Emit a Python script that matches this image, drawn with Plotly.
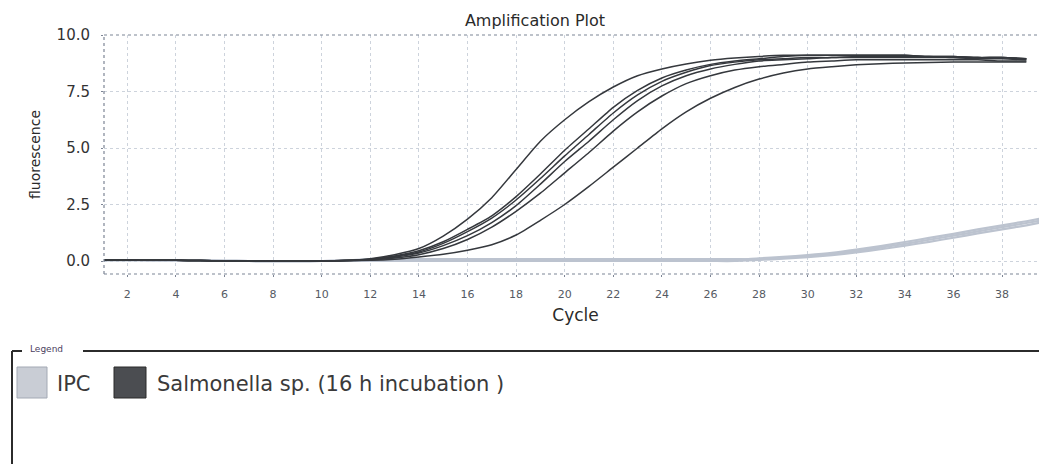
import plotly.graph_objects as go

# ---------------- data ----------------
cycles = list(range(1, 41))

base = [0.04, 0.04, 0.03, 0.03, 0.02, 0.01, 0.0, -0.01, -0.01, 0.0, 0.02]

sal_a = base + [0.10, 0.28, 0.55, 1.10, 1.85, 2.80, 4.05, 5.30, 6.25,
                7.05, 7.70, 8.20, 8.50, 8.72, 8.88, 8.98, 9.05, 9.10, 9.10,
                9.10, 9.10, 9.10, 9.10, 9.05, 9.05, 9.00, 9.00, 8.95]
sal_b = base + [0.08, 0.22, 0.45, 0.85, 1.40, 2.00, 2.85, 3.85, 4.90,
                5.85, 6.80, 7.55, 8.10, 8.45, 8.70, 8.85, 8.95, 9.05, 9.10,
                9.10, 9.10, 9.10, 9.10, 9.05, 9.05, 9.00, 9.00, 8.95]
sal_c = base + [0.07, 0.20, 0.40, 0.78, 1.30, 1.90, 2.70, 3.65, 4.65,
                5.60, 6.55, 7.35, 7.95, 8.35, 8.65, 8.80, 8.90, 8.95, 9.00,
                9.00, 9.05, 9.05, 9.05, 9.05, 9.00, 9.00, 9.00, 8.95]
sal_d = base + [0.06, 0.17, 0.35, 0.68, 1.12, 1.70, 2.45, 3.40, 4.40,
                5.30, 6.25, 7.10, 7.75, 8.20, 8.50, 8.70, 8.85, 8.90, 8.95,
                9.00, 9.00, 9.00, 9.00, 9.00, 9.00, 8.95, 8.95, 8.90]
sal_e = base + [0.05, 0.13, 0.28, 0.55, 0.95, 1.50, 2.20, 3.00, 3.90,
                4.80, 5.75, 6.60, 7.30, 7.85, 8.20, 8.45, 8.60, 8.70, 8.80,
                8.85, 8.90, 8.90, 8.90, 8.90, 8.90, 8.90, 8.85, 8.85]
sal_f = base + [0.03, 0.08, 0.18, 0.30, 0.48, 0.72, 1.15, 1.80, 2.50,
                3.30, 4.15, 5.00, 5.85, 6.60, 7.20, 7.68, 8.05, 8.32, 8.50,
                8.60, 8.68, 8.73, 8.76, 8.78, 8.80, 8.80, 8.80, 8.80]
salmonella_series = [sal_a, sal_b, sal_c, sal_d, sal_e, sal_f]

ipc_1 = base + [0.05] * 16 + [0.12, 0.18, 0.26, 0.36, 0.50, 0.66, 0.84,
                              1.02, 1.20, 1.40, 1.58, 1.76, 1.95]
ipc_2 = base + [0.00] * 16 + [0.05, 0.10, 0.17, 0.26, 0.38, 0.52, 0.68,
                              0.85, 1.03, 1.22, 1.40, 1.58, 1.78]
ipc_3 = base + [0.08] * 16 + [0.08, 0.14, 0.22, 0.31, 0.44, 0.59, 0.76,
                              0.94, 1.12, 1.31, 1.50, 1.68, 1.87]
ipc_series = [ipc_1, ipc_2, ipc_3]

x_ticks = list(range(2, 41, 2))
y_ticks = [0.0, 2.5, 5.0, 7.5, 10.0]
y_tick_labels = ["0.0", "2.5", "5.0", "7.5", "10.0"]

title_text = "Amplification Plot"
x_title = "Cycle"
y_title = "fluorescence"
legend_labels = ["IPC", "Salmonella sp. (16 h incubation )"]

# ---------------- styles ----------------
OFF = 8                      # page body margin of the browser
W, H = 1047 - OFF, 464 - OFF
L, R, T, B = 104 - OFF, 0, 35 - OFF, 190
FONT = "DejaVu Sans"
SAL_COLOR = "#35383d"
IPC_COLOR = "#bcc3cf"
GRID = "#cdd3dc"
AXIS = "#7d8595"

fig = go.Figure()

for s in ipc_series:
    fig.add_trace(go.Scatter(x=cycles, y=s, mode="lines", name=legend_labels[0],
                             line=dict(color=IPC_COLOR, width=2.2, shape="spline", smoothing=0.6),
                             showlegend=False, hoverinfo="skip"))
for s in salmonella_series:
    fig.add_trace(go.Scatter(x=cycles, y=s, mode="lines", name=legend_labels[1],
                             line=dict(color=SAL_COLOR, width=1.5, shape="spline", smoothing=0.6),
                             showlegend=False, hoverinfo="skip"))

pw, ph = W - L - R, H - T - B


def px(x):
    return (x - OFF - L) / pw


def py(y):
    return (H - B - (y - OFF)) / ph


shapes = [
    # dotted plot border
    dict(type="line", xref="paper", yref="paper", x0=0, x1=0, y0=0, y1=1,
         line=dict(color=AXIS, width=1.2, dash="dot")),
    dict(type="line", xref="paper", yref="paper", x0=0, x1=1, y0=0, y1=0,
         line=dict(color=AXIS, width=1.2, dash="dot")),
    dict(type="line", xref="paper", yref="paper", x0=0, x1=1, y0=1, y1=1,
         line=dict(color=AXIS, width=1.2, dash="dot")),
    # legend frame
    dict(type="line", xref="paper", yref="paper", x0=px(12), x1=px(22), y0=py(351), y1=py(351),
         line=dict(color="#2b2b2b", width=2)),
    dict(type="line", xref="paper", yref="paper", x0=px(83), x1=px(1050), y0=py(351), y1=py(351),
         line=dict(color="#2b2b2b", width=2)),
    dict(type="line", xref="paper", yref="paper", x0=px(12), x1=px(12), y0=py(351), y1=py(470),
         line=dict(color="#2b2b2b", width=2)),
    # legend swatches
    dict(type="rect", xref="paper", yref="paper", x0=px(17), x1=px(47), y0=py(398), y1=py(367),
         fillcolor="#c9cdd5", line=dict(color="#a3a9b4", width=1)),
    dict(type="rect", xref="paper", yref="paper", x0=px(114), x1=px(146), y0=py(398), y1=py(367),
         fillcolor="#4b4d51", line=dict(color="#2a2a2a", width=1)),
]

annotations = [
    dict(text="Legend", xref="paper", yref="paper", x=px(28), y=py(349),
         xanchor="left", yanchor="middle", showarrow=False,
         font=dict(family=FONT, size=9, color="#4b4060")),
    dict(text=legend_labels[0], xref="paper", yref="paper", x=px(55), y=py(384),
         xanchor="left", yanchor="middle", showarrow=False,
         font=dict(family=FONT, size=21, color="#3a3a3a")),
    dict(text=legend_labels[1], xref="paper", yref="paper", x=px(155), y=py(384),
         xanchor="left", yanchor="middle", showarrow=False,
         font=dict(family=FONT, size=21, color="#3a3a3a")),
]

fig.update_layout(
    width=W, height=H,
    margin=dict(l=L, r=R, t=T, b=B, pad=0),
    paper_bgcolor="white", plot_bgcolor="white",
    title=dict(text=title_text, x=(535 - OFF) / W, xanchor="center",
               y=1 - 12 / H, yanchor="middle",
               font=dict(family=FONT, size=16, color="#2a2a2a")),
    xaxis=dict(range=[1.04, 39.85], tickmode="array", tickvals=x_ticks,
               ticktext=[str(v) for v in x_ticks],
               showgrid=True, gridcolor=GRID, griddash="dot", gridwidth=1,
               zeroline=False, showline=False,
               ticks="outside", ticklen=2, tickcolor=AXIS,
               ticklabelstandoff=8,
               tickfont=dict(family=FONT, size=11, color="#555a63"),
               title=dict(text=x_title, standoff=8,
                          font=dict(family=FONT, size=17, color="#2a2a2a"))),
    yaxis=dict(range=[-0.575, 10], tickmode="array", tickvals=y_ticks,
               ticktext=y_tick_labels,
               showgrid=True, gridcolor=GRID, griddash="dot", gridwidth=1,
               zeroline=False, showline=False,
               ticks="outside", ticklen=2, tickcolor=AXIS,
               ticklabelstandoff=8,
               tickfont=dict(family=FONT, size=15, color="#333333"),
               title=dict(text=y_title, standoff=12,
                          font=dict(family=FONT, size=14, color="#2a2a2a"))),
    shapes=shapes,
    annotations=annotations,
    showlegend=False,
)

fig.write_html("out.html")
